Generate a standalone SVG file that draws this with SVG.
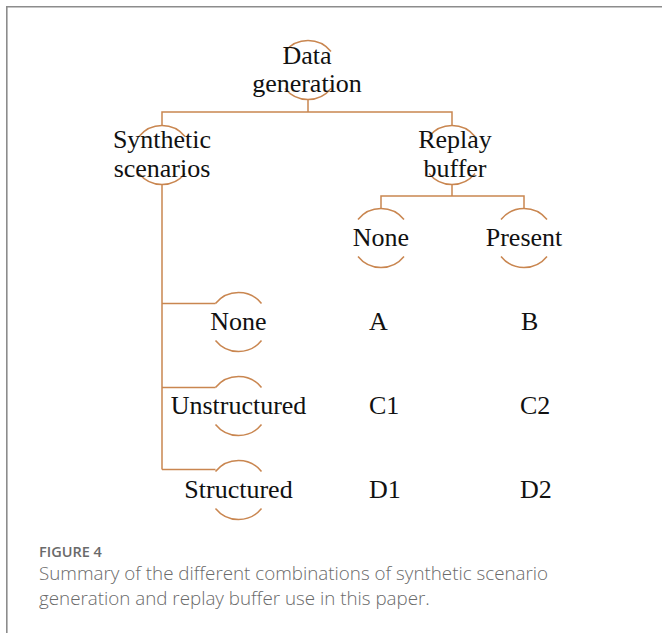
<svg xmlns="http://www.w3.org/2000/svg" width="662" height="633" viewBox="0 0 662 633">
<style>
.ln{fill:none;stroke:#C98650;stroke-width:1.5}
.t{font-family:"Liberation Serif","Times New Roman",serif;font-size:26px;fill:#111;text-anchor:middle}
.ts{font-family:"Liberation Serif","Times New Roman",serif;font-size:26px;fill:#111}
.cap{font-family:"Open Sans","Liberation Sans",sans-serif;fill:#6a6a6a}
</style>
<rect width="662" height="633" fill="#fff"/>
<path d="M6.8 633 V6.8 H662" fill="none" stroke="#8c8c8c" stroke-width="1.6"/>
<g id="connectors">
<path class="ln" d="M308 100 V112 M162 125.5 V112 H452 V125.5"/>
<path class="ln" d="M452 184.5 V196 M381 208.5 V196 H524 V208.5"/>
<path class="ln" d="M162 184.5 V469.5 M162 303.5 H215.5 M162 387.5 H215.5 M162 469.5 H215.5"/>
</g>
<g id="n-data">
<path class="ln" d="M285 51.5 A29.5 29.5 0 0 1 331 51.5 M285 88.5 A29.5 29.5 0 0 0 331 88.5"/>
<text class="t" x="307" y="64">Data</text>
<text class="t" x="307" y="92">generation</text>
</g>
<g id="n-synthetic">
<path class="ln" d="M139 136.5 A29.5 29.5 0 0 1 185 136.5 M139 173.5 A29.5 29.5 0 0 0 185 173.5"/>
<text class="t" x="162" y="148">Synthetic</text>
<text class="t" x="162" y="177">scenarios</text>
</g>
<g id="n-replay">
<path class="ln" d="M429 136.5 A29.5 29.5 0 0 1 475 136.5 M429 173.5 A29.5 29.5 0 0 0 475 173.5"/>
<text class="t" x="455" y="148">Replay</text>
<text class="t" x="455" y="177">buffer</text>
</g>
<g id="n-rb-none">
<path class="ln" d="M358 219.5 A29.5 29.5 0 0 1 404 219.5 M358 256.5 A29.5 29.5 0 0 0 404 256.5"/>
<text class="t" x="381" y="246">None</text>
</g>
<g id="n-rb-present">
<path class="ln" d="M501 219.5 A29.5 29.5 0 0 1 547 219.5 M501 256.5 A29.5 29.5 0 0 0 547 256.5"/>
<text class="t" x="524" y="246">Present</text>
</g>
<g id="n-ss-none">
<path class="ln" d="M215.5 303.5 A29.5 29.5 0 0 1 261.5 303.5 M215.5 340.5 A29.5 29.5 0 0 0 261.5 340.5"/>
<text class="t" x="238.5" y="330">None</text>
</g>
<g id="n-ss-unstructured">
<path class="ln" d="M215.5 387.5 A29.5 29.5 0 0 1 261.5 387.5 M215.5 424.5 A29.5 29.5 0 0 0 261.5 424.5"/>
<text class="t" x="238.5" y="414">Unstructured</text>
</g>
<g id="n-ss-structured">
<path class="ln" d="M215.5 471.5 A29.5 29.5 0 0 1 261.5 471.5 M215.5 508.5 A29.5 29.5 0 0 0 261.5 508.5"/>
<text class="t" x="238.5" y="498">Structured</text>
</g>
<g id="cells">
<text class="ts" x="369" y="330">A</text>
<text class="ts" x="521" y="330">B</text>
<text class="ts" x="369" y="414">C1</text>
<text class="ts" x="520" y="414">C2</text>
<text class="ts" x="369" y="498">D1</text>
<text class="ts" x="520" y="498">D2</text>
</g>
<g id="caption">
<text class="cap" x="39" y="557" font-size="14.5" font-weight="600">FIGURE 4</text>
<text class="cap" x="39" y="580" font-size="18.8" font-weight="300">Summary of the different combinations of synthetic scenario</text>
<text class="cap" x="39" y="605" font-size="18.8" font-weight="300">generation and replay buffer use in this paper.</text>
</g>
</svg>
